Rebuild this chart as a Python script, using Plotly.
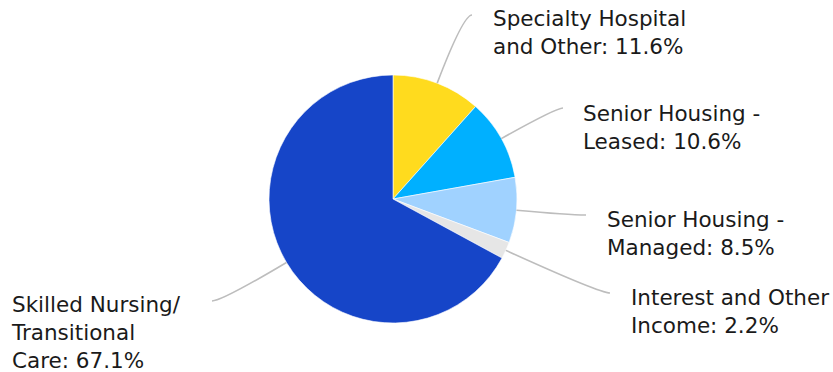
import math
import plotly.graph_objects as go

# ---- data ----
categories = ["Specialty Hospital<br>and Other", "Senior Housing -<br>Leased",
              "Senior Housing -<br>Managed", "Interest and Other<br>Income",
              "Skilled Nursing/<br>Transitional<br>Care"]
values = [11.6, 10.6, 8.5, 2.2, 67.1]
colors = ["#FFDB1E", "#00B0FF", "#A0D2FF", "#E6E6E6", "#1645C8"]

# ---- layout constants (pixels) ----
W, H = 833, 372
CX, CY, R = 393, 199, 124
# label left x, label top y, connector end x, connector end y
label_pos = [(491, 4, 472, 15), (581, 99, 563, 108), (605, 205, 586, 215),
             (629, 283, 610, 293), (9, 290, 212, 301)]
FONT = "DejaVu Sans"
FS = 21.5

def px(x):
    return x / W

def py(y):
    return 1 - y / H

fig = go.Figure(go.Pie(
    labels=[c.replace("<br>", " ") for c in categories], values=values, sort=False,
    direction="clockwise", rotation=0,
    marker=dict(colors=colors, line=dict(color="white", width=0.6)),
    textinfo="none", hoverinfo="label+percent", showlegend=False,
    domain=dict(x=[px(CX - R), px(CX + R)], y=[py(CY + R), py(CY - R)]),
))

total = sum(values)
cum = 0.0
shapes, annotations = [], []
for cat, v, (lx, ly, ex, ey) in zip(categories, values, label_pos):
    mid = (cum + v / 2) / total * 2 * math.pi
    cum += v
    ux, uy = math.sin(mid), -math.cos(mid)
    sx, sy = CX + R * ux, CY + R * uy
    t = (ey - sy) / uy if abs(uy) > 0.03 else 40
    qx = sx + t * ux
    if ex > sx:
        qx = min(qx, ex - 3)
    else:
        qx = max(qx, ex + 3)
    path = f"M {px(sx)},{py(sy)} Q {px(qx)},{py(ey)} {px(ex)},{py(ey)}"
    shapes.append(dict(type="path", path=path, xref="paper", yref="paper",
                       line=dict(color="#BDBDBD", width=1.6)))
    pct = f"{v:.1f}%"
    annotations.append(dict(
        text=f"{cat}: {pct}", x=px(lx), y=py(ly), xref="paper", yref="paper",
        xanchor="left", yanchor="top", align="left", showarrow=False,
        font=dict(family=FONT, size=FS, color="#1A1A1A")))

fig.update_layout(
    width=W, height=H, margin=dict(l=0, r=0, t=0, b=0),
    paper_bgcolor="white", plot_bgcolor="white",
    shapes=shapes, annotations=annotations,
)
fig.write_html("out.html", config={"displayModeBar": False},
               post_script="document.body.style.margin='0';document.body.style.overflow='hidden';")
